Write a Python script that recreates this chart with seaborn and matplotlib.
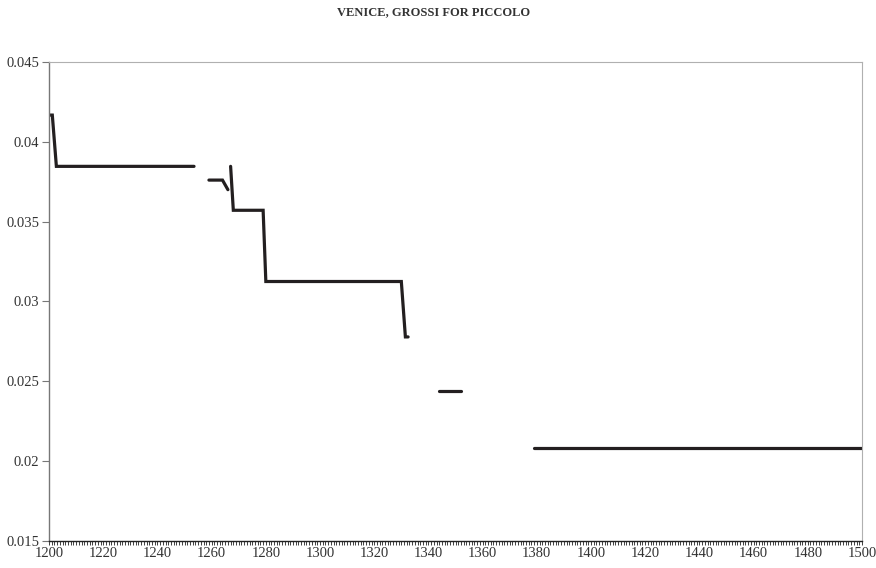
import pandas as pd
import matplotlib.pyplot as plt
import seaborn as sns
from matplotlib.ticker import MultipleLocator

# Exchange rate, grossi for piccolo, gaps = no data
segment = ["a", "a", "a", "a",
           "b", "b", "b",
           "c", "c", "c", "c", "c", "c", "c",
           "d", "d",
           "e", "e"]
year = [1200, 1201.2, 1202.7, 1253.5,
        1259, 1264, 1266,
        1267, 1268, 1279, 1280, 1330, 1331.5, 1332.5,
        1344, 1352,
        1379, 1500]
rate = [0.04167, 0.04167, 0.03846, 0.03846,
        0.0376, 0.0376, 0.0370,
        0.03846, 0.03571, 0.03571, 0.03125, 0.03125, 0.02778, 0.02778,
        0.0244, 0.0244,
        0.02083, 0.02083]

y_ticks = [0.015, 0.02, 0.025, 0.03, 0.035, 0.04, 0.045]
y_labels = ["0.015", "0.02", "0.025", "0.03", "0.035", "0.04", "0.045"]

df = pd.DataFrame({"seg": segment, "year": year, "rate": rate})

sns.set_style("white")
plt.rcParams["font.family"] = ["Liberation Serif", "DejaVu Serif"]

fig = plt.figure(figsize=(8.76, 5.68), dpi=100)
ax = fig.add_axes([0.056, 0.0475, 0.928, 0.8435])

sns.lineplot(data=df, x="year", y="rate", units="seg", estimator=None,
             color="#231f20", linewidth=2.3, ax=ax, legend=False,
             solid_capstyle="round", solid_joinstyle="miter")

ax.set_xlim(1200, 1500)
ax.set_ylim(0.015, 0.045)
ax.xaxis.set_major_locator(MultipleLocator(20))
ax.xaxis.set_minor_locator(MultipleLocator(1))
ax.set_yticks(y_ticks)
ax.set_yticklabels(y_labels)
ax.set_xlabel("")
ax.set_ylabel("")

ax.tick_params(axis="x", which="both", bottom=True, direction="out",
               length=3, width=0.6, color="#222222", labelsize=10.5, pad=1.5,
               labelcolor="#333333")
ax.tick_params(axis="y", which="major", left=True, direction="out",
               length=5, width=0.8, color="#777777", labelsize=10.5, pad=2,
               labelcolor="#333333")

for side in ["top", "right"]:
    ax.spines[side].set_color("#b0b0b0")
    ax.spines[side].set_linewidth(0.8)
ax.spines["left"].set_color("#777777")
ax.spines["left"].set_linewidth(1.0)
ax.spines["bottom"].set_color("#222222")
ax.spines["bottom"].set_linewidth(1.0)

fig.text(0.495, 0.978, "VENICE, GROSSI FOR PICCOLO", ha="center", va="center",
         fontsize=9, fontweight="bold", color="#333333")

fig.savefig("out.png", dpi=100)
